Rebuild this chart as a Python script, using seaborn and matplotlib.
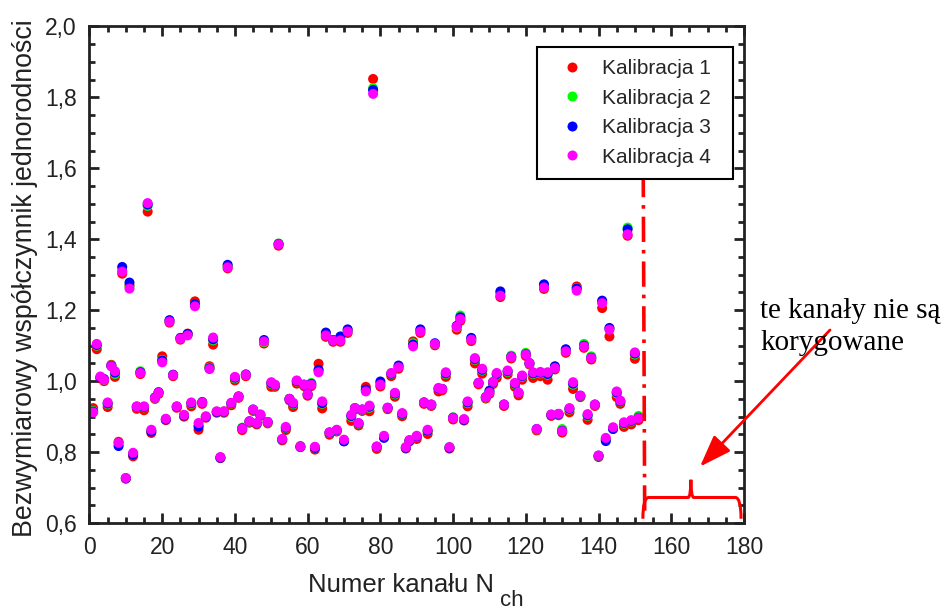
import pandas as pd
import matplotlib
matplotlib.use("Agg")
import matplotlib.pyplot as plt
from matplotlib.ticker import MultipleLocator, FuncFormatter
from matplotlib.lines import Line2D
from matplotlib.path import Path
from matplotlib.patches import PathPatch
import seaborn as sns

# channel numbers and uniformity coefficients
channels = list(range(1, 152))

kal_1 = [
    0.924, 1.090, 1.008, 1.000, 0.927, 1.046, 1.012, 0.829, 1.303, 0.725,
    1.270, 0.788, 0.922, 1.020, 0.918, 1.478, 0.854, 0.950, 0.964, 1.070,
    0.890, 1.165, 1.014, 0.925, 1.117, 0.900, 1.134, 0.929, 1.225, 0.863,
    0.936, 0.897, 1.042, 1.103, 0.911, 0.783, 0.911, 1.318, 0.932, 1.002,
    0.953, 0.862, 1.014, 0.883, 0.916, 0.878, 0.902, 1.106, 0.881, 0.984,
    0.984, 1.382, 0.833, 0.862, 0.946, 0.927, 0.993, 0.817, 0.986, 0.959,
    0.986, 0.807, 1.049, 0.923, 1.125, 0.849, 1.111, 0.858, 1.111, 0.831,
    1.136, 0.888, 0.920, 0.875, 0.916, 0.984, 0.915, 1.852, 0.809, 0.985,
    0.842, 0.921, 1.014, 0.956, 1.035, 0.901, 0.810, 0.830, 1.112, 0.837,
    1.136, 0.936, 0.851, 0.930, 1.101, 0.971, 0.974, 1.012, 0.810, 0.892,
    1.145, 1.170, 0.889, 0.929, 1.113, 1.050, 0.991, 1.021, 0.951, 0.964,
    0.992, 1.009, 1.237, 0.930, 1.019, 1.064, 0.984, 0.960, 1.004, 1.071,
    1.047, 1.009, 0.861, 1.014, 1.260, 1.004, 0.902, 1.033, 0.904, 0.855,
    1.080, 0.912, 0.978, 1.267, 0.955, 1.094, 0.891, 1.061, 0.930, 0.786,
    1.206, 0.836, 1.126, 0.866, 0.955, 0.936, 0.871, 1.410, 0.878, 1.063, 0.890,
]

kal_2 = [
    0.916, 1.100, 1.012, 1.004, 0.935, 1.044, 1.020, 0.824, 1.312, 0.726,
    1.268, 0.795, 0.927, 1.028, 0.926, 1.494, 0.860, 0.953, 0.968, 1.060,
    0.893, 1.170, 1.018, 0.928, 1.121, 0.904, 1.131, 0.936, 1.216, 0.875,
    0.941, 0.900, 1.038, 1.115, 0.914, 0.785, 0.914, 1.325, 0.937, 1.008,
    0.956, 0.869, 1.018, 0.886, 0.919, 0.881, 0.905, 1.110, 0.884, 0.992,
    0.988, 1.388, 0.836, 0.868, 0.950, 0.935, 0.999, 0.815, 0.990, 0.963,
    0.995, 0.812, 1.030, 0.936, 1.133, 0.854, 1.116, 0.861, 1.120, 0.833,
    1.143, 0.899, 0.923, 0.880, 0.919, 0.975, 0.925, 1.826, 0.814, 0.994,
    0.844, 0.924, 1.020, 0.963, 1.041, 0.907, 0.813, 0.833, 1.107, 0.843,
    1.143, 0.940, 0.859, 0.933, 1.105, 0.978, 0.978, 1.020, 0.814, 0.898,
    1.152, 1.185, 0.892, 0.938, 1.120, 1.060, 0.995, 1.030, 0.954, 0.970,
    0.996, 1.018, 1.248, 0.934, 1.026, 1.072, 0.991, 0.966, 1.012, 1.080,
    1.050, 1.020, 0.864, 1.022, 1.270, 1.018, 0.905, 1.040, 0.907, 0.865,
    1.088, 0.920, 0.990, 1.262, 0.958, 1.105, 0.902, 1.070, 0.933, 0.789,
    1.224, 0.836, 1.148, 0.867, 0.965, 0.942, 0.880, 1.433, 0.886, 1.075, 0.902,
]

kal_3 = [
    0.914, 1.102, 1.010, 1.006, 0.937, 1.043, 1.024, 0.817, 1.322, 0.726,
    1.278, 0.793, 0.928, 1.025, 0.927, 1.498, 0.858, 0.954, 0.969, 1.058,
    0.892, 1.172, 1.018, 0.928, 1.122, 0.903, 1.133, 0.938, 1.217, 0.872,
    0.941, 0.899, 1.036, 1.118, 0.913, 0.784, 0.914, 1.328, 0.938, 1.010,
    0.957, 0.867, 1.019, 0.887, 0.920, 0.881, 0.905, 1.116, 0.885, 0.994,
    0.989, 1.387, 0.836, 0.869, 0.950, 0.937, 1.000, 0.814, 0.990, 0.963,
    0.992, 0.812, 1.032, 0.938, 1.137, 0.855, 1.116, 0.862, 1.126, 0.830,
    1.146, 0.902, 0.924, 0.881, 0.920, 0.976, 0.928, 1.821, 0.815, 0.999,
    0.840, 0.925, 1.021, 0.965, 1.044, 0.908, 0.812, 0.832, 1.103, 0.844,
    1.146, 0.940, 0.860, 0.934, 1.107, 0.979, 0.978, 1.022, 0.812, 0.897,
    1.156, 1.180, 0.891, 0.940, 1.122, 1.062, 0.995, 1.032, 0.955, 0.973,
    0.997, 1.020, 1.253, 0.934, 1.028, 1.069, 0.993, 0.967, 1.014, 1.076,
    1.051, 1.022, 0.865, 1.024, 1.273, 1.020, 0.905, 1.042, 0.907, 0.860,
    1.090, 0.922, 0.993, 1.261, 0.959, 1.100, 0.904, 1.066, 0.934, 0.790,
    1.227, 0.831, 1.150, 0.865, 0.968, 0.943, 0.882, 1.428, 0.888, 1.078, 0.897,
]

kal_4 = [
    0.912, 1.105, 1.013, 1.004, 0.940, 1.042, 1.028, 0.826, 1.309, 0.727,
    1.261, 0.798, 0.929, 1.023, 0.929, 1.502, 0.863, 0.953, 0.968, 1.053,
    0.894, 1.168, 1.017, 0.929, 1.120, 0.905, 1.129, 0.940, 1.211, 0.882,
    0.940, 0.901, 1.034, 1.123, 0.915, 0.786, 0.915, 1.321, 0.939, 1.012,
    0.957, 0.866, 1.018, 0.887, 0.920, 0.882, 0.906, 1.112, 0.885, 0.997,
    0.990, 1.386, 0.837, 0.871, 0.950, 0.939, 1.002, 0.815, 0.990, 0.963,
    0.990, 0.815, 1.025, 0.943, 1.129, 0.856, 1.115, 0.863, 1.115, 0.835,
    1.140, 0.905, 0.924, 0.882, 0.920, 0.971, 0.931, 1.810, 0.816, 0.990,
    0.846, 0.925, 1.023, 0.967, 1.039, 0.910, 0.814, 0.834, 1.098, 0.846,
    1.140, 0.940, 0.863, 0.934, 1.105, 0.981, 0.978, 1.025, 0.814, 0.896,
    1.154, 1.175, 0.893, 0.943, 1.117, 1.065, 0.995, 1.035, 0.955, 0.968,
    0.998, 1.023, 1.241, 0.934, 1.030, 1.068, 0.995, 0.968, 1.016, 1.075,
    1.051, 1.025, 0.865, 1.026, 1.264, 1.025, 0.906, 1.037, 0.908, 0.859,
    1.084, 0.924, 0.997, 1.255, 0.959, 1.098, 0.907, 1.065, 0.934, 0.790,
    1.220, 0.840, 1.145, 0.870, 0.971, 0.945, 0.884, 1.414, 0.890, 1.081, 0.896,
]

series_names = ["Kalibracja 1", "Kalibracja 2", "Kalibracja 3", "Kalibracja 4"]
series_colors = ["#ff0000", "#00ff00", "#0000ff", "#ff00ff"]

# uncorrected channels marker
boundary_x = 152.3
brace_left, brace_mid, brace_right = 152.2, 165.4, 179.2

sns.set_theme(style="ticks")
plt.rcParams["font.family"] = ["Liberation Sans", "DejaVu Sans"]

df = pd.concat(
    [pd.DataFrame({"kanal": channels, "wsp": vals, "seria": name})
     for name, vals in zip(series_names, [kal_1, kal_2, kal_3, kal_4])],
    ignore_index=True,
)

fig = plt.figure(figsize=(9.44, 6.10), dpi=100)
ax = fig.add_axes([0.0948, 0.1426, 0.6933, 0.814])

sns.scatterplot(
    data=df, x="kanal", y="wsp", hue="seria",
    palette=dict(zip(series_names, series_colors)),
    s=52, linewidth=0, ax=ax, legend=False,
)

ax.set_xlim(0, 180)
ax.set_ylim(0.6, 2.0)
ax.xaxis.set_major_locator(MultipleLocator(20))
ax.xaxis.set_minor_locator(MultipleLocator(5))
ax.yaxis.set_major_locator(MultipleLocator(0.2))
ax.yaxis.set_minor_locator(MultipleLocator(0.05))
ax.yaxis.set_major_formatter(FuncFormatter(lambda v, p: f"{v:.1f}".replace(".", ",")))

spine_col = "#222222"
for sp in ax.spines.values():
    sp.set_linewidth(2.0)
    sp.set_color(spine_col)
ax.tick_params(which="both", direction="in", top=True, right=True,
               width=2.0, color=spine_col, labelcolor="#222222", labelsize=16.5)
ax.tick_params(which="major", length=7, pad=9)
ax.tick_params(which="minor", length=4)

ax.set_xlabel("")
ax.set_ylabel("Bezwymiarowy współczynnik jednorodności", fontsize=19.3,
              color="#222222")
ax.yaxis.set_label_coords(-0.079, 0.494)
# x label with a full-size lowered subscript, as in the original
fig.text(308 / 944, 1 - 592 / 610, "Numer kanału N", fontsize=18.5,
         color="#222222", va="baseline", ha="left")
fig.text(500 / 944, 1 - 606 / 610, "ch", fontsize=16,
         color="#222222", va="baseline", ha="left")

handles = [Line2D([], [], marker="o", ls="", color=c, markersize=7.2, markeredgewidth=0)
           for c in series_colors]
leg = ax.legend(handles, series_names, loc="upper left",
                bbox_to_anchor=(0.684, 0.697, 0.299, 0.262), mode="expand",
                borderaxespad=0, fontsize=15, frameon=True, fancybox=False,
                framealpha=1, edgecolor="black", handletextpad=0.43,
                labelspacing=0.5, borderpad=0.6, handlelength=2.1)
leg.get_frame().set_linewidth(1.5)

# dash-dot boundary
ax.plot([boundary_x, boundary_x + 0.4], [1.59, 0.615], color="red", lw=2.6,
        linestyle=(0, (7, 2.2, 1, 2.2)), solid_capstyle="butt")

# curly brace under the uncorrected channels
y_base, y_top, y_end = 0.672, 0.722, 0.612
verts = [
    (brace_left, y_end), (brace_left, y_base), (brace_left + 1.6, y_base),
    (brace_mid - 0.8, y_base),
    (brace_mid, y_base), (brace_mid, y_top),
    (brace_mid, y_base), (brace_mid + 0.8, y_base),
    (brace_right - 1.6, y_base),
    (brace_right, y_base), (brace_right, y_end),
]
codes = [Path.MOVETO, Path.CURVE3, Path.CURVE3, Path.LINETO,
         Path.CURVE3, Path.CURVE3, Path.CURVE3, Path.CURVE3,
         Path.LINETO, Path.CURVE3, Path.CURVE3]
ax.add_patch(PathPatch(Path(verts, codes), facecolor="none", edgecolor="red", lw=2.2))

ax.annotate("", xy=(167.9, 0.759), xycoords="data",
            xytext=(830, 610 - 330), textcoords="figure pixels",
            arrowprops=dict(arrowstyle="-|>,head_length=0.7,head_width=0.25",
                            color="red", lw=2, mutation_scale=28,
                            shrinkA=0, shrinkB=0),
            annotation_clip=False)

serif = ["Liberation Serif", "DejaVu Serif"]
fig.text(760 / 944, 1 - 318 / 610, "te kanały nie są", family=serif, fontsize=21,
         color="black", va="baseline", ha="left")
fig.text(760 / 944, 1 - 350 / 610, "korygowane", family=serif, fontsize=21,
         color="black", va="baseline", ha="left")

fig.savefig("out.png", dpi=100)
